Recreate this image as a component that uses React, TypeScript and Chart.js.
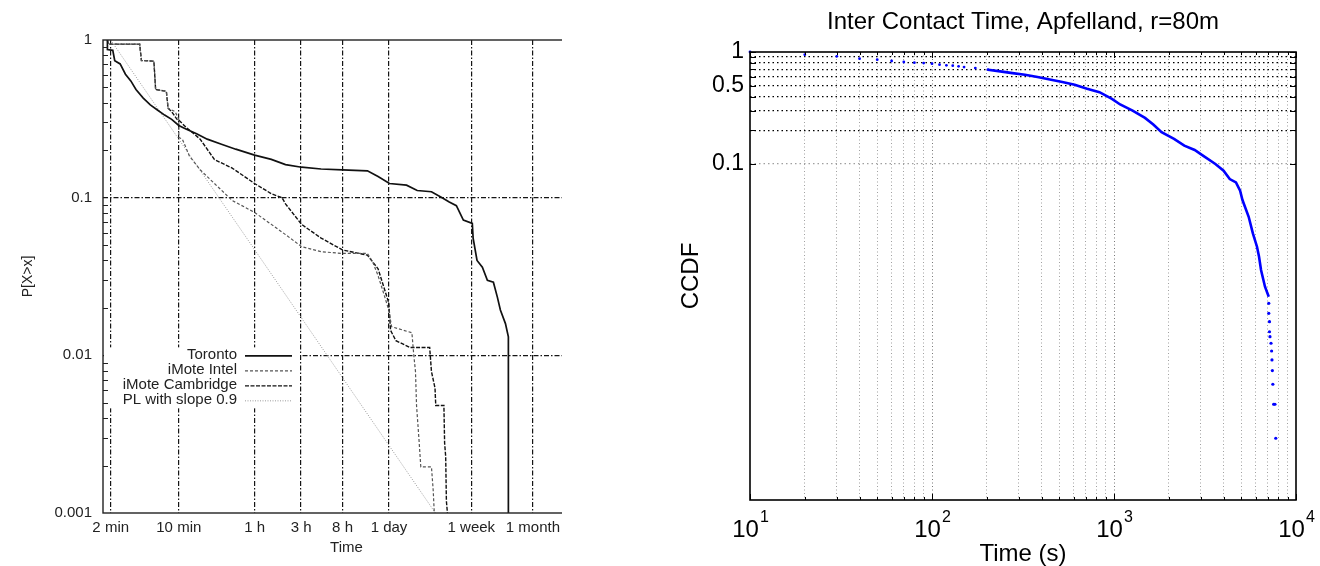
import React, { useEffect, useRef } from 'react';
import { Chart, registerables } from 'chart.js';

Chart.register(...registerables);

const FONT = '"Liberation Sans", Arial, Helvetica, sans-serif';
Chart.defaults.font.family = FONT;

// ---------------- Left chart: inter-contact time distributions ----------------
const leftXTickValues = [120, 600, 3600, 10800, 28800, 86400, 604800, 2592000];
const leftXTickLabels = ['2 min', '10 min', '1 h', '3 h', '8 h', '1 day', '1 week', '1 month'];
const leftYTickValues = [0.001, 0.01, 0.1, 1];
const leftYTickLabels = ['0.001', '0.01', '0.1', '1'];
const leftGridY = [0.01, 0.1];
const leftMinorY = [
  0.002, 0.003, 0.004, 0.005, 0.006, 0.007, 0.008, 0.009,
  0.02, 0.03, 0.04, 0.05, 0.06, 0.07, 0.08, 0.09,
  0.2, 0.3, 0.4, 0.5, 0.6, 0.7, 0.8, 0.9,
];
const seriesNames = ['Toronto', 'iMote Intel', 'iMote Cambridge', 'PL with slope 0.9'];

const torontoX = [111, 111, 126, 132, 150, 170, 193, 218, 259, 306, 362, 429, 507, 600, 710, 914, 1175, 1645, 2305, 3600, 5345, 7480, 10930, 17350, 28750, 51850, 66700, 87300, 130700, 168300, 235600, 303300, 358900, 424600, 501000, 619000, 631000, 692000, 785000, 884000, 1019000, 1119000, 1202000, 1355000, 1452000, 1452000, 1452000];
const torontoY = [1, 0.87, 0.86, 0.74, 0.705, 0.607, 0.55, 0.485, 0.428, 0.388, 0.36, 0.334, 0.314, 0.287, 0.273, 0.254, 0.235, 0.218, 0.203, 0.186, 0.175, 0.162, 0.156, 0.152, 0.15, 0.148, 0.136, 0.123, 0.12, 0.111, 0.109, 0.1, 0.094, 0.089, 0.072, 0.0687, 0.0553, 0.04, 0.0362, 0.0299, 0.0291, 0.0234, 0.0194, 0.0159, 0.0131, 0.01, 0.001];

const intelX = [111, 113, 238, 248, 333, 347, 447, 466, 551, 600, 600, 653, 772, 994, 1392, 2120, 3600, 5345, 7480, 10930, 17350, 28750, 51850, 58800, 66700, 75700, 85900, 91800, 148400, 154800, 161500, 165600, 175500, 183200, 235600, 245800, 251900];
const intelY = [1, 0.942, 0.942, 0.741, 0.734, 0.485, 0.473, 0.369, 0.351, 0.314, 0.241, 0.235, 0.1835, 0.1503, 0.123, 0.096, 0.0806, 0.0677, 0.0583, 0.0489, 0.0454, 0.0443, 0.0443, 0.0391, 0.032, 0.025, 0.0194, 0.0152, 0.0139, 0.0102, 0.0079, 0.00481, 0.00292, 0.00196, 0.00196, 0.00138, 0.001];

const cambX = [111, 113, 238, 248, 333, 347, 447, 466, 507, 575, 600, 710, 994, 1392, 2120, 3600, 5345, 6885, 7480, 10930, 17350, 28750, 51850, 66700, 75700, 85900, 89600, 101600, 142300, 226000, 235600, 256300, 260800, 316300, 321600, 329800, 335400, 343700];
const cambY = [1, 0.942, 0.942, 0.741, 0.734, 0.485, 0.473, 0.369, 0.351, 0.314, 0.31, 0.2804, 0.235, 0.1746, 0.154, 0.123, 0.106, 0.0999, 0.0913, 0.0677, 0.0554, 0.0466, 0.0432, 0.0354, 0.0276, 0.0215, 0.0144, 0.0124, 0.0112, 0.0112, 0.0079, 0.0062, 0.00481, 0.00481, 0.00278, 0.00228, 0.00119, 0.001];

const plX = [120, 258500];
const plY = [1, 0.001];

// ---------------- Right chart: CCDF Apfelland ----------------
const rightTitle = 'Inter Contact Time, Apfelland, r=80m';
const rightXGrid = [10, 20, 30, 40, 50, 60, 70, 80, 90, 100, 200, 300, 400, 500, 600, 700, 800, 900, 1000, 2000, 3000, 4000, 5000, 6000, 7000, 8000, 9000, 10000];
const rightXMajor = [10, 100, 1000, 10000];
const rightXExp = ['1', '2', '3', '4'];
const rightYGrid = [0.1, 0.2, 0.3, 0.4, 0.5, 0.6, 0.7, 0.8, 0.9, 1];
const rightYLabelValues = [0.1, 0.5, 1];
const rightYLabelTexts = ['0.1', '0.5', '1'];

const ccdfHeadX = [10, 20, 30, 40, 50, 60, 70, 80, 90, 100, 110, 120, 130, 140, 150, 173, 203];
const ccdfHeadY = [1, 0.946, 0.915, 0.872, 0.854, 0.831, 0.814, 0.803, 0.797, 0.786, 0.77, 0.76, 0.755, 0.745, 0.734, 0.719, 0.695];
const ccdfBodyX = [203, 237, 277, 324, 380, 444, 520, 608, 711, 832, 974, 1081, 1265, 1480, 1644, 1825, 2137, 2434, 2774, 3082, 3606, 4000, 4325, 4679, 4931, 5080, 5495, 5795, 6105, 6265, 6425, 6755, 7085];
const ccdfBodyY = [0.695, 0.671, 0.648, 0.627, 0.597, 0.569, 0.539, 0.51, 0.47, 0.438, 0.382, 0.34, 0.3, 0.258, 0.225, 0.192, 0.1675, 0.146, 0.1334, 0.1188, 0.1, 0.0872, 0.0734, 0.0685, 0.0577, 0.0477, 0.0338, 0.024, 0.01825, 0.01485, 0.01132, 0.00802, 0.00653];
const ccdfTailX = [7085, 7085, 7150, 7150, 7195, 7290, 7345, 7380, 7415, 7460, 7535, 7660, 7740];
const ccdfTailY = [0.0057, 0.00464, 0.00391, 0.00318, 0.00287, 0.00251, 0.00214, 0.00178, 0.00143, 0.00108, 0.000716, 0.000716, 0.000356];

const pts = (xs: number[], ys: number[]) => xs.map((x, i) => ({ x, y: ys[i] }));

const LW = 620; // left canvas width (figure is cropped to LEFT_VISIBLE)
const LEFT_VISIBLE = 562;
const RW = 680;
const H = 566;

function buildLeft(canvas: HTMLCanvasElement) {
  const decor = {
    id: 'leftDecor',
    afterDatasetsDraw(chart: any) {
      const { ctx, chartArea: a, scales } = chart;
      const ys = scales.y;
      const y01 = ys.getPixelForValue(0.01);
      ctx.save();
      // legend backdrop + entries
      ctx.fillStyle = '#fff';
      ctx.fillRect(a.left + 1, y01 - 8, 196, 61);
      ctx.font = `15px ${FONT}`;
      ctx.textAlign = 'right';
      ctx.textBaseline = 'middle';
      chart.data.datasets.forEach((ds: any, i: number) => {
        const ry = y01 + i * 15;
        ctx.fillStyle = '#222';
        ctx.fillText(ds.label, a.left + 134, ry);
        ctx.beginPath();
        ctx.setLineDash(ds.borderDash || []);
        ctx.strokeStyle = ds.borderColor;
        ctx.lineWidth = ds.borderWidth;
        ctx.moveTo(a.left + 142, ry + 0.5);
        ctx.lineTo(a.left + 189, ry + 0.5);
        ctx.stroke();
        ctx.setLineDash([]);
      });
      // minor ticks on left axis
      ctx.beginPath();
      ctx.strokeStyle = '#222';
      ctx.lineWidth = 1;
      leftMinorY.forEach((v) => {
        const y = Math.round(ys.getPixelForValue(v)) + 0.5;
        ctx.moveTo(a.left, y);
        ctx.lineTo(a.left + 5, y);
      });
      ctx.stroke();
      // frame
      ctx.strokeStyle = '#222';
      ctx.lineWidth = 1.4;
      ctx.strokeRect(a.left, a.top, a.right - a.left, a.bottom - a.top);
      ctx.restore();
    },
  };

  return new Chart(canvas, {
    type: 'line',
    data: {
      datasets: [
        { label: seriesNames[0], data: pts(torontoX, torontoY), borderColor: '#111', borderWidth: 1.7, pointRadius: 0, tension: 0 },
        { label: seriesNames[1], data: pts(intelX, intelY), borderColor: '#555', borderWidth: 1.2, borderDash: [3, 2], pointRadius: 0, tension: 0 },
        { label: seriesNames[2], data: pts(cambX, cambY), borderColor: '#111', borderWidth: 1.4, borderDash: [4, 1.5], pointRadius: 0, tension: 0 },
        { label: seriesNames[3], data: pts(plX, plY), borderColor: '#9a9a9a', borderWidth: 1, borderDash: [1, 1.5], pointRadius: 0, tension: 0 },
      ],
    } as any,
    options: {
      animation: false,
      responsive: false,
      devicePixelRatio: 1,
      layout: { padding: { top: 40, right: LW - 590, bottom: 0, left: 0 } },
      plugins: { legend: { display: false }, tooltip: { enabled: false }, title: { display: false } },
      scales: {
        x: {
          type: 'logarithmic',
          min: 100,
          max: 1e7,
          afterBuildTicks: (s: any) => { s.ticks = leftXTickValues.map((v) => ({ value: v })); },
          afterFit: (s: any) => { s.height = 53; },
          ticks: {
            autoSkip: false,
            maxRotation: 0,
            padding: 6,
            color: '#222',
            font: { size: 15 },
            callback: (v: any) => { const i = leftXTickValues.indexOf(Number(v)); return i >= 0 ? leftXTickLabels[i] : ''; },
          },
          grid: { drawTicks: false, color: '#151515', lineWidth: 1.2 },
          border: { display: false, dash: [5, 2, 1.5, 2] },
          title: { display: true, text: 'Time', color: '#222', font: { size: 15 }, padding: { top: 0, bottom: 9 } },
        },
        y: {
          type: 'logarithmic',
          min: 0.001,
          max: 1,
          afterBuildTicks: (s: any) => { s.ticks = leftYTickValues.map((v) => ({ value: v })); },
          afterFit: (s: any) => { s.width = 103; },
          ticks: {
            autoSkip: false,
            padding: 11,
            color: '#222',
            font: { size: 15 },
            callback: (v: any) => { const i = leftYTickValues.indexOf(Number(v)); return i >= 0 ? leftYTickLabels[i] : ''; },
          },
          grid: {
            drawTicks: false,
            lineWidth: 1.2,
            color: (c: any) => (c.tick && leftGridY.includes(c.tick.value) ? '#151515' : 'rgba(0,0,0,0)'),
          },
          border: { display: false, dash: [5, 2, 1.5, 2] },
          title: { display: true, text: 'P[X>x]', color: '#222', font: { size: 14 }, padding: { top: 20, bottom: 0 } },
        },
      },
    } as any,
    plugins: [decor],
  });
}

function buildRight(canvas: HTMLCanvasElement) {
  const decor = {
    id: 'rightDecor',
    afterDraw(chart: any) {
      const { ctx, chartArea: a, scales } = chart;
      ctx.save();
      // inward ticks
      ctx.beginPath();
      ctx.strokeStyle = '#000';
      ctx.lineWidth = 1;
      rightYGrid.forEach((v) => {
        const y = Math.round(scales.y.getPixelForValue(v)) + 0.5;
        ctx.moveTo(a.left, y); ctx.lineTo(a.left + 6, y);
        ctx.moveTo(a.right, y); ctx.lineTo(a.right - 6, y);
      });
      rightXGrid.forEach((v) => {
        const x = Math.round(scales.x.getPixelForValue(v)) + 0.5;
        const len = rightXMajor.includes(v) ? 6 : 3;
        ctx.moveTo(x, a.bottom); ctx.lineTo(x, a.bottom - len);
        ctx.moveTo(x, a.top); ctx.lineTo(x, a.top + len);
      });
      ctx.stroke();
      // frame
      ctx.lineWidth = 1.6;
      ctx.strokeRect(a.left, a.top, a.right - a.left, a.bottom - a.top);
      // x tick labels 10^k
      ctx.fillStyle = '#000';
      ctx.textAlign = 'left';
      ctx.textBaseline = 'alphabetic';
      rightXMajor.forEach((v, i) => {
        const x = scales.x.getPixelForValue(v);
        ctx.font = `24px ${FONT}`;
        const w1 = ctx.measureText('10').width;
        ctx.font = `16px ${FONT}`;
        const w2 = ctx.measureText(rightXExp[i]).width;
        const x0 = x - (w1 + w2) / 2;
        ctx.font = `24px ${FONT}`;
        ctx.fillText('10', x0, a.bottom + 37);
        ctx.font = `16px ${FONT}`;
        ctx.fillText(rightXExp[i], x0 + w1 + 1, a.bottom + 22);
      });
      ctx.restore();
    },
  };

  return new Chart(canvas, {
    type: 'line',
    data: {
      datasets: [
        { label: 'CCDF', data: pts(ccdfBodyX, ccdfBodyY), borderColor: '#0000ff', borderWidth: 2.6, pointRadius: 0, tension: 0 },
        { label: 'CCDF head', data: pts(ccdfHeadX, ccdfHeadY), showLine: false, pointRadius: 1.4, pointBorderWidth: 0, pointBackgroundColor: '#0000ff', clip: 4 },
        { label: 'CCDF tail', data: pts(ccdfTailX, ccdfTailY), showLine: false, pointRadius: 1.6, pointBorderWidth: 0, pointBackgroundColor: '#0000ff', clip: 4 },
      ],
    } as any,
    options: {
      animation: false,
      responsive: false,
      devicePixelRatio: 1,
      layout: { padding: { top: 0, right: 24, bottom: 0, left: 0 } },
      plugins: {
        legend: { display: false },
        tooltip: { enabled: false },
        title: {
          display: true,
          text: rightTitle,
          color: '#000',
          fullSize: false,
          font: { size: 24, weight: 'normal' },
          padding: { top: 8, bottom: 15.2 },
        },
      },
      scales: {
        x: {
          type: 'logarithmic',
          min: 10,
          max: 10000,
          afterBuildTicks: (s: any) => { s.ticks = rightXGrid.map((v) => ({ value: v })); },
          afterFit: (s: any) => { s.height = 66; },
          ticks: { display: false, autoSkip: false },
          grid: {
            drawTicks: false,
            lineWidth: 1,
            color: (c: any) => {
              const v = c.tick ? c.tick.value : 0;
              if (v === 10 || v === 10000) return 'rgba(0,0,0,0)';
              return rightXMajor.includes(v) ? '#777' : '#a0a0a0';
            },
          },
          border: { display: false, dash: [1, 2.5] },
          title: { display: true, text: 'Time (s)', color: '#000', font: { size: 24, lineHeight: 1 }, padding: { top: 0, bottom: 0 } },
        },
        y: {
          type: 'logarithmic',
          min: 0.0001,
          max: 1,
          afterBuildTicks: (s: any) => { s.ticks = rightYGrid.map((v) => ({ value: v })); },
          afterFit: (s: any) => { s.width = 110; },
          ticks: {
            autoSkip: false,
            padding: 6,
            color: '#000',
            font: { size: 23 },
            callback: (v: any) => { const i = rightYLabelValues.indexOf(Number(v)); return i >= 0 ? rightYLabelTexts[i] : ''; },
          },
          grid: {
            drawTicks: false,
            lineWidth: 1.3,
            color: (c: any) => {
              const v = c.tick ? c.tick.value : 0;
              if (v === 1) return 'rgba(0,0,0,0)';
              return v === 0.1 ? '#a0a0a0' : '#000';
            },
          },
          border: { display: false, dash: [1.5, 3] },
          title: { display: true, text: 'CCDF', color: '#000', font: { size: 24 }, padding: { top: 37, bottom: 0 } },
        },
      },
    } as any,
    plugins: [decor],
  });
}

function ChartCanvas({ build, left, width, visible }: { build: (c: HTMLCanvasElement) => Chart; left: number; width: number; visible: number }) {
  const ref = useRef<HTMLCanvasElement>(null);
  useEffect(() => {
    if (!ref.current) return;
    const chart = build(ref.current);
    return () => chart.destroy();
  }, []);
  return (
    <div style={{ position: 'absolute', left, top: 0, width: visible, height: H, overflow: 'hidden' }}>
      <canvas
        ref={ref}
        width={width}
        height={H}
        style={{ position: 'absolute', left: 0, top: 0, width, height: H }}
      />
    </div>
  );
}

export default function App() {
  return (
    <div style={{ position: 'absolute', left: 0, top: 0, width: 1320, height: H, background: '#fff', overflow: 'hidden' }}>
      <ChartCanvas build={buildLeft} left={0} width={LW} visible={LEFT_VISIBLE} />
      <ChartCanvas build={buildRight} left={640} width={RW} visible={RW} />
    </div>
  );
}
